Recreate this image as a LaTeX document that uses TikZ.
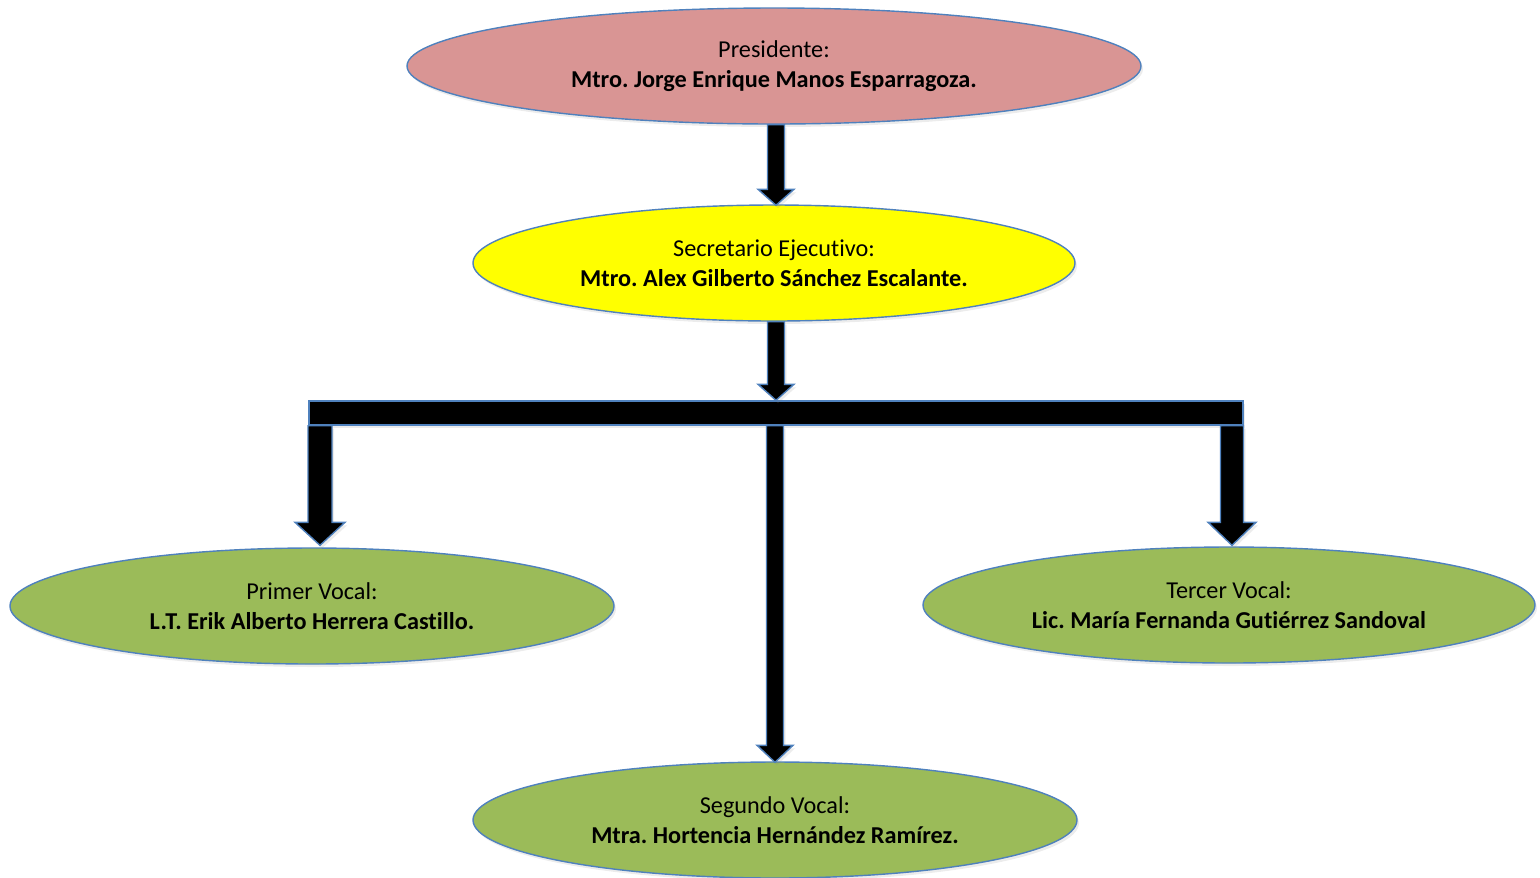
\documentclass[tikz,border=0pt]{standalone}
\usepackage{fontspec}
\setmainfont{Carlito}[Ligatures=NoCommon]
\usepackage{tikz}
\usetikzlibrary{positioning, calc, shapes.geometric, shadows}
\frenchspacing

\definecolor{rosa}{HTML}{D99594}
\definecolor{amarillo}{HTML}{FFFF00}
\definecolor{verde}{HTML}{9BBB59}
\definecolor{borde}{HTML}{4F81BD}

\tikzset{
    sombra/.style={drop shadow={opacity=0.15, shadow xshift=0.04cm, shadow yshift=-0.06cm}},
    cargo/.style={ellipse, draw=borde, line width=0.8pt, inner sep=0pt,
        minimum width=12.08cm, minimum height=2.32cm, align=center,
        font=\fontsize{13.8}{17}\selectfont, sombra},
    blockarrow/.style={fill=black, draw=borde, line width=0.8pt, line join=miter, sombra}
}

% vertical block arrow: start, tip, shaft half width, head half width, head length
\newcommand{\vblock}[5]{%
    \draw[blockarrow] ($(#1)+(-#3,0)$) -- ($(#2)+(-#3,#5)$) -- ($(#2)+(-#4,#5)$)
        -- (#2) -- ($(#2)+(#4,#5)$) -- ($(#2)+(#3,#5)$) -- ($(#1)+(#3,0)$) -- cycle;}

\begin{document}
\begin{tikzpicture}
    \useasboundingbox (0,0) rectangle (30.8,-17.54);
    % Cargos
    \node[cargo, fill=rosa, minimum width=14.68cm] (pres) at (15.48,-1.32)
        {Presidente:\\ \textbf{Mtro. Jorge Enrique Manos Esparragoza.}};
    \node[cargo, fill=amarillo, minimum width=12.04cm] (sec) at (15.48,-5.26)
        {Secretario Ejecutivo:\\ \textbf{Mtro. Alex Gilberto Sánchez Escalante.}};
    \node[cargo, fill=verde] (prim) at (6.24,-12.12)
        {Primer Vocal:\\ \textbf{L.T. Erik Alberto Herrera Castillo.}};
    \node[cargo, fill=verde, minimum width=12.24cm] (terc) at (24.58,-12.1)
        {Tercer Vocal:\\ \textbf{Lic. María Fernanda Gutiérrez Sandoval}};
    \node[cargo, fill=verde] (seg) at (15.5,-16.4)
        {Segundo Vocal:\\ \textbf{Mtra. Hortencia Hernández Ramírez.}};
    % Barra
    \node[blockarrow, rectangle, inner sep=0pt, minimum width=18.68cm,
        minimum height=0.48cm] (bar) at (15.52,-8.26) {};
    % Flechas
    \coordinate (a1) at ($(pres.south)+(0.04,0)$);
    \coordinate (a2) at ($(sec.north)+(0.04,-0.02)$);
    \vblock{a1}{a2}{0.17}{0.36}{0.32}
    \coordinate (b1) at ($(sec.south)+(0.04,0)$);
    \coordinate (b2) at (b1 |- bar.north);
    \vblock{b1}{b2}{0.17}{0.36}{0.32}
    \coordinate (c1) at (bar.south -| seg.north);
    \coordinate (c2) at ($(seg.north)+(0,-0.02)$);
    \vblock{c1}{c2}{0.17}{0.36}{0.34}
    \coordinate (d1) at ($(bar.south -| prim.north)+(0.16,0)$);
    \coordinate (d2) at ($(prim.north)+(0.16,0.04)$);
    \vblock{d1}{d2}{0.24}{0.5}{0.46}
    \coordinate (e1) at ($(bar.south -| terc.north)+(0.06,0)$);
    \coordinate (e2) at ($(terc.north)+(0.06,0.02)$);
    \vblock{e1}{e2}{0.23}{0.48}{0.46}
\end{tikzpicture}
\end{document}
